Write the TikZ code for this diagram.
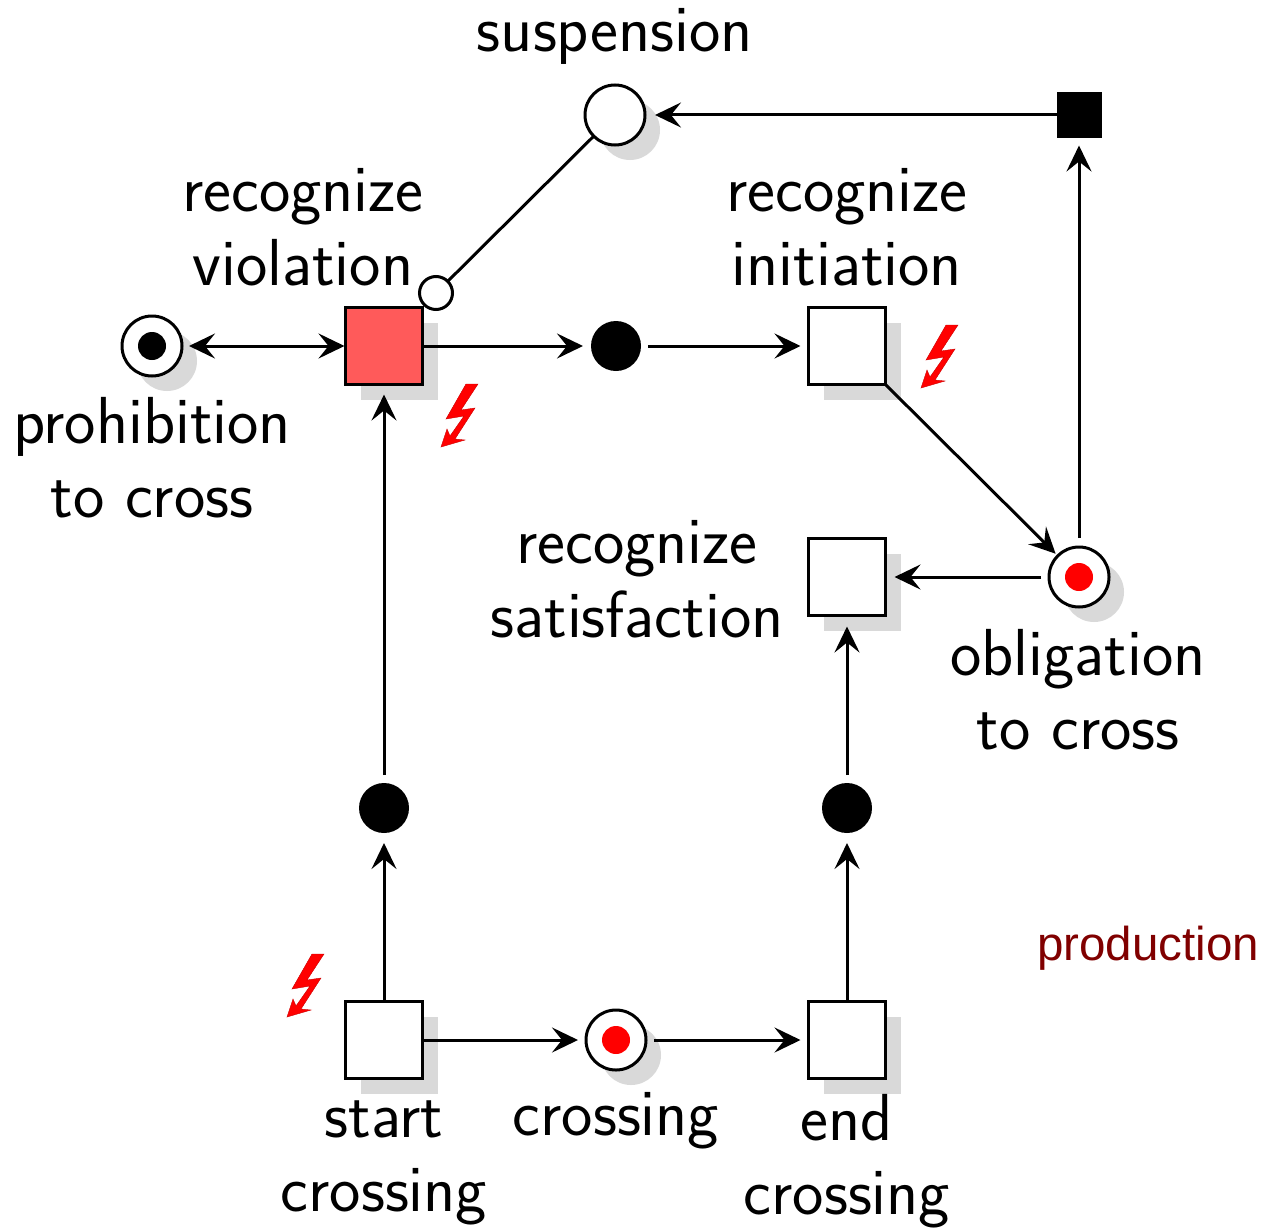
\documentclass[tikz,border=0pt]{standalone}
\usepackage{fontspec}
\setsansfont{Latin Modern Sans}
\newfontfamily\arialish{Liberation Sans}
\usetikzlibrary{arrows.meta,shadows}
\tikzset{
  x=1pt,y=-1pt,
  shadowed/.style={general shadow={shadow xshift=15pt,shadow yshift=-15pt,fill=black!15}},
  sqbox/.style={draw=black,line width=3pt,fill=white,minimum size=77pt,inner sep=0pt,outer sep=0pt,shadowed},
  place/.style={circle,draw=black,line width=3pt,fill=white,minimum size=60pt,inner sep=0pt,outer sep=0pt,shadowed},
  dotnode/.style={circle,fill=black,minimum size=50pt,inner sep=0pt,outer sep=0pt},
  token/.style={circle,minimum size=28pt,inner sep=0pt,outer sep=0pt},
  smallplace/.style={circle,draw=black,line width=3pt,fill=white,minimum size=33pt,inner sep=0pt,outer sep=0pt},
  blacksq/.style={fill=black,minimum size=45pt,inner sep=0pt,outer sep=0pt},
  conn/.style={line width=3pt,black},
  arr/.style={conn,-{Stealth[length=26pt,width=25pt,inset=10pt]}},
  darr/.style={conn,{Stealth[length=26pt,width=25pt,inset=10pt]}-{Stealth[length=26pt,width=25pt,inset=10pt]}},
  lbl/.style={font=\sffamily\fontsize{66.5}{74}\selectfont,align=center,inner sep=0pt,text=black},
  bolt/.style={fill=red,draw=red!80!black,line width=.4pt},
  boltshape/.pic={\path[bolt] (0,0)--(6,-18)--(9,-11)--(23,-31)--(5,-28)--(25,-63)--(37,-63)--(20,-37)--(34,-39)--(14,-8)--(24,-7)--cycle;}
}
\begin{document}
\begin{tikzpicture}
\useasboundingbox (0,0) rectangle (1265,1228);
% nodes
\node[sqbox,fill={rgb,255:red,255;green,90;blue,90}] (viol) at (384,346) {};
\node[sqbox] (init) at (847,346) {};
\node[sqbox] (sat) at (847,577) {};
\node[sqbox] (start) at (384,1040) {};
\node[sqbox] (end) at (847,1040) {};
\node[blacksq] (bsq) at (1079,115) {};
\node[place] (susp) at (615,115) {};
\node[smallplace] (vdot) at (436,293) {};
\node[place] (proh) at (152,346) {};
\node[token,fill=black] (prohT) at (152,346) {};
\node[place] (obl) at (1079,577) {};
\node[token,fill=red] (oblT) at (1079,577) {};
\node[place] (cross) at (616,1040) {};
\node[token,fill=red] (crossT) at (616,1040) {};
\node[dotnode] (d1) at (616,346) {};
\node[dotnode] (d2) at (384,808) {};
\node[dotnode] (d3) at (847,808) {};
% connectors
\draw[darr,shorten <=7pt,shorten >=1pt] (proh) -- (viol);
\draw[arr,shorten >=8pt] (viol) -- (d1);
\draw[arr,shorten <=7pt,shorten >=8pt] (d1) -- (init);
\draw[arr,shorten >=10pt] (start) -- (d2);
\draw[arr,shorten <=8pt,shorten >=10pt] (d2) -- (viol);
\draw[arr,shorten >=10pt] (end) -- (d3);
\draw[arr,shorten <=8pt,shorten >=11pt] (d3) -- (sat);
\draw[arr,shorten >=8pt] (start) -- (cross);
\draw[arr,shorten <=8pt,shorten >=8pt] (cross) -- (end);
\draw[arr,shorten >=3pt] (init.south east) -- (obl);
\draw[arr,shorten <=8pt,shorten >=9pt] (obl) -- (sat);
\draw[arr,shorten <=9pt,shorten >=8pt] (obl) -- (bsq);
\draw[arr,shorten >=10pt] (bsq) -- (susp);
\draw[conn] (susp) -- (vdot);
% labels
\node[lbl] (lsusp) at (615,36) {suspension};
\node[lbl] (lviol) at (303,227) {recognize\\violation};
\node[lbl] (linit) at (847,227) {recognize\\initiation};
\node[lbl] (lproh) at (152,458) {prohibition\\to cross};
\node[lbl] (lsat) at (637,579) {recognize\\satisfaction};
\node[lbl] (lobl) at (1078,690) {obligation\\to cross};
\node[lbl] (lstart) at (384,1163) {start\\crossing};
\node[lbl] (lcross) at (616,1121) {crossing};
\node[lbl] (lend) at (847,1161) {end\\crossing};
\node[font=\arialish\fontsize{47.5}{50}\selectfont,text={rgb,255:red,128;green,0;blue,0},inner sep=0pt] (lprod) at (1148,948) {production};
% bolts
\pic at (441,447) {boltshape};
\pic at (921,388) {boltshape};
\pic at (287,1017) {boltshape};
\end{tikzpicture}
\end{document}
